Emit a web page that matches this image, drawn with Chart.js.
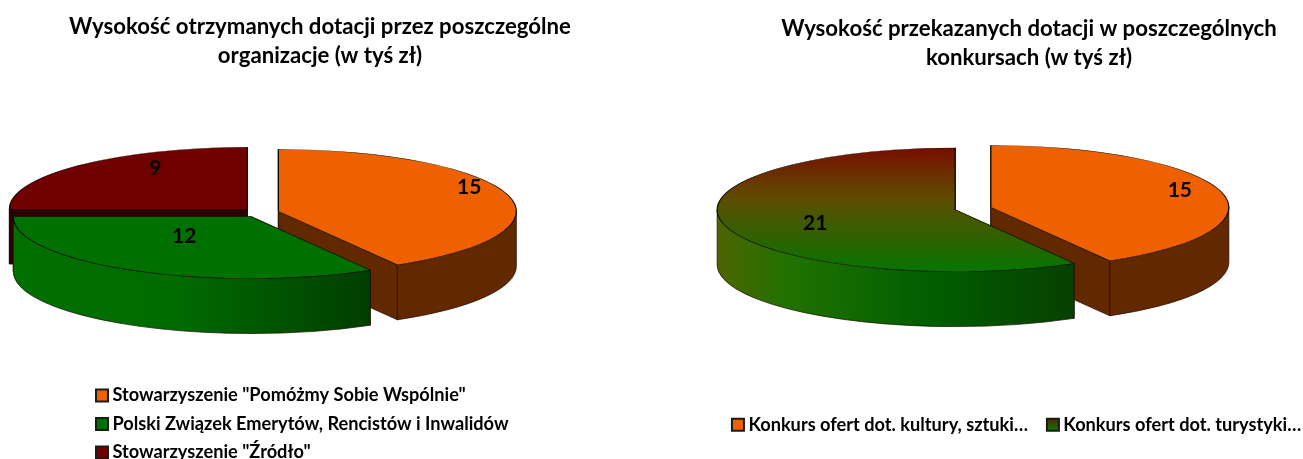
<!DOCTYPE html>
<html><head><meta charset="utf-8">
<style>
html,body{margin:0;padding:0;background:#fff;width:1303px;height:459px;overflow:hidden}
canvas{position:absolute;top:0}
</style>
<script src="https://cdn.jsdelivr.net/npm/chart.js@4/dist/chart.umd.min.js"></script>
</head><body>
<canvas id="a" width="651" height="459" style="left:0"></canvas>
<canvas id="b" width="652" height="459" style="left:651px"></canvas>
<script>
const organizationTitle = ['Wysokość otrzymanych dotacji przez poszczególne', 'organizacje (w tyś zł)'];
const organizationCategories = ['Stowarzyszenie "Pomóżmy Sobie Wspólnie"', 'Polski Związek Emerytów, Rencistów i Inwalidów', 'Stowarzyszenie "Źródło"'];
const organizationValues = [15, 12, 9];
const contestTitle = ['Wysokość przekazanych dotacji w poszczególnych', 'konkursach (w tyś zł)'];
const contestCategories = ['Konkurs ofert dot. kultury, sztuki…', 'Konkurs ofert dot. turystyki…'];
const contestValues = [15, 21];

const FONT = 'Lato, Carlito, Calibri, sans-serif';
const K = 0.26, DEPTH = 55, RADIUS = 238, EXPLODE = 18.5;

function grad(ctx, x0, y0, x1, y1, stops) {
  const g = ctx.createLinearGradient(x0, y0, x1, y1);
  stops.forEach(s => g.addColorStop(s[0], s[1]));
  return g;
}

const pie3d = {
  id: 'pie3d',
  afterLayout(chart) {
    const o = chart.options.plugins.pie3d;
    const t = chart.titleBlock, l = chart.legend, a = chart.chartArea;
    t.left = o.titleX - 270; t.right = o.titleX + 270; t.top = o.titleTop;
    l.left = o.legendX; l.top = o.legendTop; l.right = l.left + l.width;
    a.left = o.cx - RADIUS; a.right = o.cx + RADIUS; a.top = o.cy - RADIUS; a.bottom = o.cy + RADIUS;
    a.width = a.height = RADIUS * 2;
  },
  beforeDatasetDraw(chart, args) {
    const o = chart.options.plugins.pie3d, ctx = chart.ctx, arcs = args.meta.data;
    // back-to-front painter's order for side walls
    o.order.forEach(i => {
      const g = geom(arcs[i]);
      ctx.save();
      ctx.lineWidth = 0.7; ctx.strokeStyle = '#1a0a00'; ctx.lineJoin = 'round';
      [g.a, g.b].forEach(e => {
        const ex = g.X + Math.cos(e) * g.R, ey = g.Y + K * Math.sin(e) * g.R;
        ctx.beginPath();
        ctx.moveTo(g.X, g.Y); ctx.lineTo(ex, ey); ctx.lineTo(ex, ey + DEPTH); ctx.lineTo(g.X, g.Y + DEPTH); ctx.closePath();
        ctx.fillStyle = o.cutColors[i]; ctx.fill(); ctx.stroke();
      });
      const lo = Math.max(g.a, 0), hi = Math.min(g.b, Math.PI);
      if (hi > lo) {
        ctx.beginPath();
        ctx.ellipse(g.X, g.Y, g.R, K * g.R, 0, lo, hi);
        ctx.ellipse(g.X, g.Y + DEPTH, g.R, K * g.R, 0, hi, lo, true);
        ctx.closePath();
        ctx.fillStyle = o.wallColors[i]; ctx.fill(); ctx.stroke();
      }
      ctx.restore();
    });
    // tops, drawn by the library's arc elements under a flattening transform
    o.order.forEach(i => {
      const arc = arcs[i], h = (arc.startAngle + arc.endAngle) / 2;
      ctx.save();
      ctx.translate(0, arc.y); ctx.scale(1, K); ctx.translate(0, -arc.y);
      ctx.translate(Math.cos(h) * EXPLODE, Math.sin(h) * EXPLODE);
      arc.draw(ctx);
      ctx.restore();
    });
    // value labels
    ctx.save();
    ctx.font = 'bold 21px ' + FONT; ctx.fillStyle = '#000'; ctx.textAlign = 'center'; ctx.textBaseline = 'middle';
    arcs.forEach((arc, i) => {
      const g = geom(arc), p = o.labelPlace[i];
      const x = g.X + Math.cos(g.h) * p[0] * g.R;
      const y = g.Y + K * Math.sin(g.h) * p[0] * g.R + p[1];
      ctx.fillText(String(chart.data.datasets[0].data[i]), x, y);
    });
    ctx.restore();
    return false;
  }
};

function geom(arc) {
  const h = (arc.startAngle + arc.endAngle) / 2;
  return { h, a: arc.startAngle, b: arc.endAngle, R: arc.outerRadius,
    X: arc.x + Math.cos(h) * EXPLODE, Y: arc.y + K * Math.sin(h) * EXPLODE };
}

function build(id, title, categories, values, colors, legendColors, place) {
  const ctx = document.getElementById(id).getContext('2d');
  return new Chart(ctx, {
    type: 'pie',
    data: { labels: categories, datasets: [{ data: values, backgroundColor: colors, borderColor: '#0a0a00', borderWidth: 1.2, clip: false }] },
    plugins: [pie3d],
    options: {
      responsive: false, animation: false, events: [], radius: RADIUS,
      layout: { padding: { right: place.layoutRight } },
      plugins: {
        pie3d: place,
        tooltip: { enabled: false },
        title: { display: true, text: title, color: '#000', font: { family: FONT, size: 22.2, weight: 'bold', lineHeight: 1.32 }, padding: 0 },
        legend: {
          position: 'bottom', align: 'start',
          labels: {
            usePointStyle: true, boxWidth: 2.7, boxHeight: 12, padding: place.legendPad, color: '#000',
            font: { family: FONT, size: 18.2, weight: 'bold' },
            generateLabels: c => c.data.labels.map((t, i) => ({ text: t, fillStyle: legendColors[i], strokeStyle: '#1a1a1a', lineWidth: 2, pointStyle: 'rect', index: i }))
          }
        }
      }
    }
  });
}

const ca = document.getElementById('a').getContext('2d');
const cb = document.getElementById('b').getContext('2d');
const flat = (cy, y) => cy + (y - cy) / K;

build('a', organizationTitle, organizationCategories, organizationValues,
  ['#EE6000', '#007000', '#700000'], ['#EE6000', '#007000', '#700000'],
  { cx: 260.5, cy: 212.5, titleX: 320, titleTop: 12, legendX: 90.45, legendTop: 376.3, legendPad: 10.2, layoutRight: 150,
    order: [2, 0, 1],
    cutColors: ['#622800', '#003c00', '#2e0000'],
    wallColors: ['#622800',
      grad(ca, 13, 0, 370, 0, [[0, '#007000'], [0.45, '#006c00'], [1, '#003e00']]),
      '#400000'],
    labelPlace: [[0.83, -11], [0.563, -11], [0.547, -17]] });

const CY2 = 208.5;
build('b', contestTitle, contestCategories, contestValues,
  ['#EE6000', grad(cb, 0, flat(CY2, 146), 0, flat(CY2, 265), [[0, '#780c00'], [0.42, '#5f4c00'], [1, '#0c7200']])],
  ['#EE6000', grad(cb, 0, 416, 0, 429, [[0, '#700e00'], [1, '#0c7200']])],
  { cx: 322, cy: CY2, titleX: 378, titleTop: 14, legendX: 62, legendTop: 392, legendPad: 23.6, layoutRight: 0,
    order: [0, 1],
    cutColors: ['#622800', '#083f00'],
    wallColors: ['#622800',
      grad(cb, 66, 0, 423, 0, [[0, '#4e6400'], [0.2, '#207200'], [0.6, '#005e00'], [1, '#064000']])],
    labelPlace: [[0.822, -4], [0.609, 4]] });
</script>
</body></html>
